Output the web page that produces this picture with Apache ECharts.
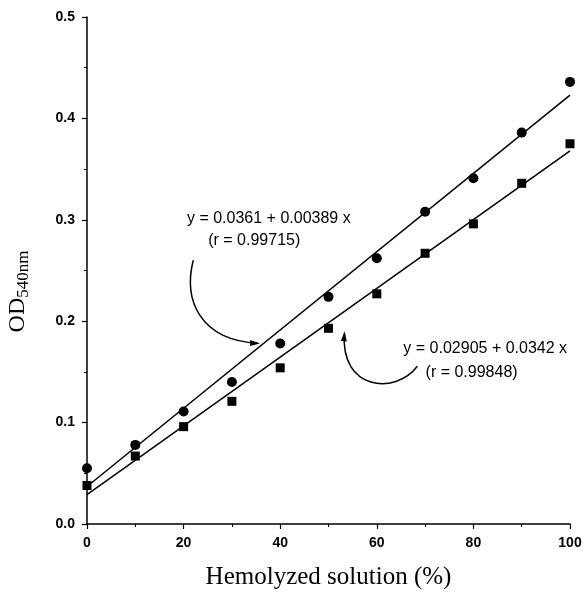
<!DOCTYPE html>
<html>
<head>
<meta charset="utf-8">
<script src="https://cdn.jsdelivr.net/npm/echarts@6/dist/echarts.min.js"></script>
<style>
  html, body { margin: 0; padding: 0; background: #fff; }
  #chart { width: 584px; height: 596px; }
</style>
</head>
<body>
<div id="chart"></div>
<script>
// hemolyzed solution (%)
const xValues = [0, 10, 20, 30, 40, 50, 60, 70, 80, 90, 100]
// OD540nm, circles
const circleOD = [0.055, 0.078, 0.111, 0.140, 0.178, 0.224, 0.262, 0.308, 0.341, 0.386, 0.436]
// OD540nm, squares
const squareOD = [0.038, 0.067, 0.096, 0.121, 0.154, 0.193, 0.227, 0.267, 0.296, 0.336, 0.375]
// fitted lines, end points
const circleFit = [[0, 0.037], [100, 0.423]]
const squareFit = [[0, 0.029], [100, 0.368]]

const yTicks = ['0.0', '0.1', '0.2', '0.3', '0.4', '0.5']

// annotations (data coordinates)
const notes = [
  { text: 'y = 0.0361 + 0.00389 x', at: [20.7, 0.3016] },
  { text: '(r = 0.99715)', at: [25.1, 0.2799] },
  { text: 'y = 0.02905 + 0.0342 x', at: [65.5, 0.1733] },
  { text: '(r = 0.99848)', at: [70.1, 0.1496] }
]
const arrows = [
  [[22.0, 0.2601], [19.9, 0.2206], [23.4, 0.1811], [35.4, 0.1782]],
  [[68.4, 0.1555], [63.8, 0.1269], [52.4, 0.1318], [53.3, 0.1881]]
]

const pair = (xs, ys) => xs.map((x, i) => [x, ys[i]])

const chart = echarts.init(document.getElementById('chart'))

const axisCommon = {
  axisLine: { lineStyle: { color: '#000', width: 1.5 } },
  axisTick: { inside: false, length: 5, lineStyle: { color: '#000', width: 1.2 } },
  minorTick: { show: true, splitNumber: 2, length: 3, lineStyle: { color: '#000', width: 1 } },
  splitLine: { show: false },
  axisLabel: {
    color: '#000',
    fontFamily: 'Liberation Sans',
    fontWeight: 'bold',
    fontSize: 14,
    margin: 12
  }
}

chart.setOption({
  backgroundColor: '#fff',
  animation: false,
  grid: { left: 87, right: 14, top: 17, bottom: 72, outerBoundsMode: 'none' },
  xAxis: Object.assign({}, axisCommon, {
    type: 'value',
    min: 0,
    max: 100,
    interval: 20,
    name: 'Hemolyzed solution (%)',
    nameLocation: 'middle',
    nameGap: 41,
    nameTextStyle: { fontFamily: 'Liberation Serif', fontSize: 25, color: '#000' }
  }),
  yAxis: Object.assign({}, axisCommon, {
    type: 'value',
    min: 0,
    max: 0.5,
    interval: 0.1,
    axisLabel: Object.assign({}, axisCommon.axisLabel, {
      formatter: (v) => yTicks[Math.round(v * 10)]
    }),
    name: '{a|OD}{b|540nm}',
    nameLocation: 'middle',
    nameRotate: 90,
    nameGap: 57,
    nameTextStyle: {
      color: '#000',
      rich: {
        a: { fontFamily: 'Liberation Serif', fontSize: 24, lineHeight: 24, verticalAlign: 'top', color: '#000' },
        // right padding pushes the rotated title down the axis
        b: { fontFamily: 'Liberation Serif', fontSize: 17, lineHeight: 17, padding: [11, 42, 0, 0], color: '#000' }
      }
    }
  }),
  series: [
    {
      type: 'line',
      data: circleFit,
      symbol: 'none',
      lineStyle: { color: '#000', width: 1.5 }
    },
    {
      type: 'line',
      data: squareFit,
      symbol: 'none',
      lineStyle: { color: '#000', width: 1.5 }
    },
    {
      type: 'scatter',
      data: pair(xValues, circleOD),
      symbol: 'circle',
      symbolSize: 10,
      clip: false,
      itemStyle: { color: '#000', opacity: 1 }
    },
    {
      type: 'scatter',
      data: pair(xValues, squareOD),
      symbol: 'rect',
      symbolSize: 9,
      clip: false,
      itemStyle: { color: '#000', opacity: 1 }
    }
  ]
})

// place annotation texts and curved arrows through the chart's own scales
const toPx = (p) => chart.convertToPixel({ gridIndex: 0 }, p)
const graphics = []
notes.forEach((n) => {
  const p = toPx(n.at)
  graphics.push({
    type: 'text',
    x: p[0],
    y: p[1],
    style: {
      text: n.text,
      fontFamily: 'Liberation Sans',
      fontSize: 16,
      fill: '#000',
      align: 'left',
      verticalAlign: 'middle'
    }
  })
})
arrows.forEach((a) => {
  const [p0, p1, p2, p3] = a.map(toPx)
  graphics.push({
    type: 'bezierCurve',
    shape: { x1: p0[0], y1: p0[1], cpx1: p1[0], cpy1: p1[1], cpx2: p2[0], cpy2: p2[1], x2: p3[0], y2: p3[1] },
    style: { stroke: '#000', lineWidth: 1.5, fill: null }
  })
  // arrow head along the last tangent
  const dx = p3[0] - p2[0]
  const dy = p3[1] - p2[1]
  const len = Math.sqrt(dx * dx + dy * dy)
  const ux = dx / len
  const uy = dy / len
  const hl = 8
  const hw = 3
  graphics.push({
    type: 'polygon',
    shape: {
      points: [
        [p3[0] + ux * 2, p3[1] + uy * 2],
        [p3[0] - ux * hl - uy * hw, p3[1] - uy * hl + ux * hw],
        [p3[0] - ux * hl + uy * hw, p3[1] - uy * hl - ux * hw]
      ]
    },
    style: { fill: '#000' }
  })
})
chart.setOption({ graphic: graphics })
</script>
</body>
</html>
